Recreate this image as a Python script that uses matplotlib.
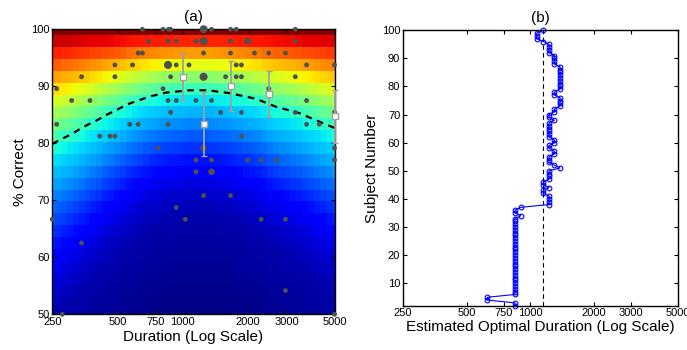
import numpy as np
import matplotlib.pyplot as plt
from matplotlib.ticker import FixedLocator, FixedFormatter, NullLocator

plt.rcParams['font.family'] = ['Liberation Sans', 'DejaVu Sans']

# ---------------- panel (a) data ----------------
# dashed fitted curve
curve_dur = [250, 281, 307, 335, 366, 400, 445, 569, 703, 839, 1075, 1300,
             1640, 2176, 2691, 3441, 4252, 5000]
curve_pct = [79.9, 80.9, 81.6, 82.5, 83.3, 84.0, 85.0, 87.0, 88.2, 88.9, 89.3,
             89.3, 88.8, 87.8, 86.4, 85.3, 83.8, 82.7]

# shading level vs. distance from the curve (logit units)
shade_dist = [-2.2, -1.8, -1.4, -1.2, -1.0, -0.8, -0.6, -0.4, -0.2, 0.0, 0.2,
              0.4, 0.6, 0.8, 1.0, 1.3, 1.7, 2.4, 3.5, 5.0]
shade_level = [0.0, 0.02, 0.04, 0.07, 0.11, 0.17, 0.23, 0.29, 0.34, 0.41, 0.49,
               0.56, 0.63, 0.69, 0.74, 0.81, 0.87, 0.93, 0.97, 1.0]

# individual subjects (duration, % correct, count)
subj_dur = [651, 810, 860, 878, 1246, 1355, 1658, 1761, 3298,
            696, 854, 932, 1148, 1246, 1658, 1985, 3298,
            622, 651, 1246, 1658, 2137, 2488, 2970,
            486, 586, 854, 932, 1067, 1761, 1862, 3717, 5000,
            341, 486, 878, 1246, 1573, 1761, 1862, 3298,
            262, 810, 2488,
            307, 373, 854, 932, 1148, 1355, 3717,
            878, 1492, 1862, 3298, 5000,
            262, 569, 622, 854, 3717, 4252,
            414, 461, 486, 1862,
            768, 1246, 5000,
            1148, 1355, 1985, 2295, 2706, 5000,
            1148, 1355,
            1246, 1658,
            932,
            250, 1026, 2295, 2970,
            341,
            2970,
            278, 5000]
subj_pct = [100.0] * 9 + [97.92] * 8 + [95.83] * 7 + [93.75] * 9 + [91.67] * 8 \
    + [89.58] * 3 + [87.5] * 7 + [85.42] * 5 + [83.33] * 6 + [81.25] * 4 \
    + [79.17] * 3 + [77.08] * 6 + [75.0] * 2 + [70.83] * 2 + [68.75] \
    + [66.67] * 4 + [62.5] + [54.17] + [50.0] * 2
subj_n = [1, 1, 1, 1, 3, 1, 1, 1, 1,
          1, 1, 1, 1, 3, 1, 2, 1,
          1, 1, 1, 1, 1, 1, 1,
          1, 1, 3, 1, 1, 1, 1, 1, 1,
          1, 1, 1, 3, 1, 1, 1, 1,
          1, 1, 1,
          1, 1, 1, 1, 1, 1, 1,
          1, 1, 1, 1, 1,
          1, 1, 1, 1, 1, 1,
          1, 1, 1, 1,
          1, 2, 1,
          1, 1, 1, 1, 1, 1,
          1, 2,
          1, 1,
          1,
          1, 1, 1, 1,
          1,
          1,
          1, 1]

# binned means with error bars
bin_dur = [1000, 1250, 1667, 2500, 5000]
bin_mid = [91.7, 83.3, 90.1, 88.6, 84.8]
bin_lo = [87.6, 77.8, 85.7, 84.6, 80.0]
bin_hi = [95.8, 89.0, 94.5, 92.7, 89.4]

# ---------------- panel (b) data ----------------
subject = list(range(2, 101))
opt_dur = [848, 848, 628, 628] + [848] * 28 + [903, 848, 848, 903] \
    + [1229, 1229, 1229, 1229, 1155, 1155, 1229, 1155, 1155, 1229, 1229] \
    + [1229, 1229, 1386, 1303, 1229, 1229, 1229, 1303, 1303, 1229, 1229,
       1303, 1303, 1229, 1229, 1229, 1229, 1229, 1229, 1303, 1229, 1229,
       1303, 1303, 1386, 1386, 1386, 1386, 1303, 1303,
       1386, 1386, 1386, 1386, 1386, 1386, 1386, 1386, 1386,
       1303, 1303, 1303, 1303, 1229, 1229, 1229, 1229, 1155,
       1075, 1075, 1075, 1155]
overall_opt = 1155

xticks = [250, 500, 750, 1000, 2000, 3000, 5000]

fig = plt.figure(figsize=(6.87, 3.5), dpi=100)
ax = fig.add_axes([0.0761, 0.102, 0.4108, 0.8143])
ax2 = fig.add_axes([0.5866, 0.1266, 0.3999, 0.7869])

# shaded surface
ncol = 49
lc = np.linspace(np.log10(250), np.log10(5000), ncol)
step = lc[1] - lc[0]
xedges = 10 ** np.concatenate([lc - step / 2, [lc[-1] + step / 2]])
rows = np.linspace(50, 100, 25)
rstep = rows[1] - rows[0]
yedges = np.concatenate([rows - rstep / 2, [rows[-1] + rstep / 2]])
mu = np.interp(lc, np.log10(curve_dur), curve_pct)


def logit(p):
    p = np.clip(np.asarray(p) / 100.0, 0.001, 0.999)
    return np.log(p / (1 - p))


dist = logit(rows)[:, None] - logit(mu)[None, :]
Z = np.interp(dist, shade_dist, shade_level)
ax.pcolormesh(xedges, yedges, Z, cmap='jet', vmin=0, vmax=1, shading='flat')

ax.plot(curve_dur, curve_pct, color='k', ls='--', lw=1.6, dashes=(3, 2.5), zorder=3)
sizes = {1: 12, 2: 22, 3: 34}
ax.scatter(subj_dur, subj_pct, s=[sizes[n] for n in subj_n], c='#505050',
           linewidths=0, zorder=4, clip_on=False)
mid = np.array(bin_mid)
ax.errorbar(bin_dur, bin_mid, yerr=[mid - np.array(bin_lo), np.array(bin_hi) - mid],
            fmt='s', color='#a0a0a0', mfc='white', mec='#a0a0a0', ms=4, mew=1,
            elinewidth=1.3, capsize=2, capthick=1.2, zorder=5, clip_on=False)

ax.set_xscale('log')
ax.set_xlim(250, 5000)
ax.set_ylim(50, 100)
ax.set_title('(a)', fontsize=11, pad=6)
ax.set_xlabel('Duration (Log Scale)', fontsize=11, labelpad=2)
ax.set_ylabel('% Correct', fontsize=11, labelpad=3)
ax.set_yticks(range(50, 101, 10))

# panel (b)
ax2.axvline(overall_opt, color='k', ls='--', lw=0.8, dashes=(4, 3))
ax2.plot(opt_dur, subject, color='b', marker='o', ms=3.4, mfc='none', mew=0.8, lw=0.8,
         clip_on=False)
ax2.set_xscale('log')
ax2.set_xlim(250, 5000)
ax2.set_ylim(2, 100)
ax2.set_yticks(range(10, 101, 10))
ax2.set_title('(b)', fontsize=11, pad=6)
ax2.set_xlabel('Estimated Optimal Duration (Log Scale)', fontsize=11, labelpad=1)
ax2.set_ylabel('Subject Number', fontsize=11, labelpad=2)

for a in (ax, ax2):
    a.xaxis.set_major_locator(FixedLocator(xticks))
    a.xaxis.set_major_formatter(FixedFormatter([str(t) for t in xticks]))
    a.xaxis.set_minor_locator(NullLocator())
    a.tick_params(direction='in', top=True, right=True, length=3, width=0.8,
                  labelsize=8, pad=2)
    for s in a.spines.values():
        s.set_linewidth(1.0)

fig.savefig('out.png', dpi=100)
